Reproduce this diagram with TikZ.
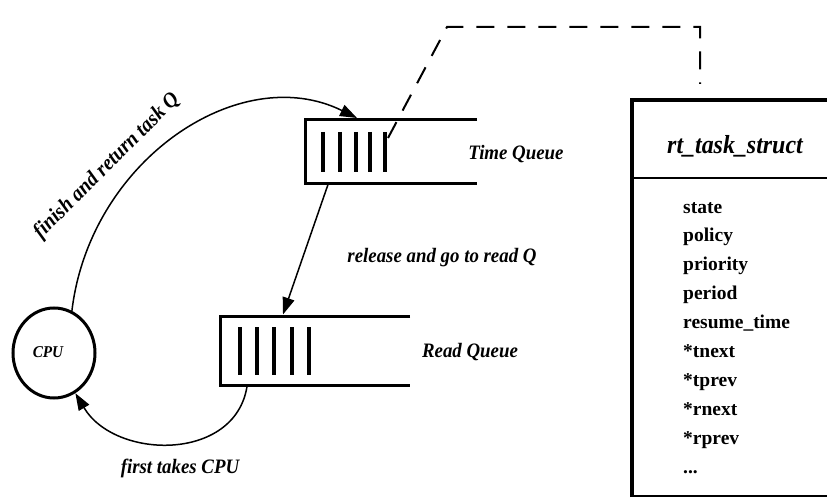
\documentclass[tikz,border=0pt]{standalone}
\usepackage{fontspec}
\setmainfont{Liberation Serif}
\newfontfamily\narrowserif{Liberation Serif}[FakeStretch=0.92]
\usetikzlibrary{arrows.meta,shapes.geometric}
\begin{document}
\begin{tikzpicture}[x=1pt,y=-1pt,
  lbl/.style={font=\narrowserif\fontsize{20.5}{22}\selectfont\bfseries\itshape, inner sep=0pt},
  fld/.style={font=\fontsize{19.5}{22}\selectfont\bfseries, anchor=base west, inner sep=0pt},
  qbox/.style={inner sep=0pt, outer sep=0pt},
  qline/.style={line width=3pt},
  qbar/.style={line width=4pt},
  flow/.style={line width=1.5pt, -{Triangle[length=17pt,width=12pt]}},
  link/.style={line width=2pt, dash pattern=on 18pt off 13pt},
  frame/.style={line width=4pt}]
\fill[white] (0,0) rectangle (827,500);
\clip (0,0) rectangle (827,500);

% CPU
\node[ellipse, draw, line width=3pt, minimum width=82pt, minimum height=90pt, inner sep=0pt] (cpu) at (54,353) {};
\node[lbl, font=\narrowserif\fontsize{16.5}{18}\selectfont\bfseries\itshape, anchor=base] (cpulbl) at (48,357) {CPU};

% Time queue
\node[qbox, minimum width=172pt, minimum height=63pt] (tq) at (391,151.5) {};
\draw[qline] (tq.north east) -- (tq.north west) -- (tq.south west) -- (tq.south east);
\foreach \x in {323,340,356,370,385} \draw[qbar] (\x,132) -- (\x,172);
\node[lbl, anchor=base] (tql) at (516,159) {Time Queue};

% Read queue
\node[qbox, minimum width=190pt, minimum height=69pt] (rq) at (315,350.5) {};
\draw[qline] (rq.north east) -- (rq.north west) -- (rq.south west) -- (rq.south east);
\foreach \x in {240,257,274,292,309} \draw[qbar] (\x,327) -- (\x,375);
\node[lbl, anchor=base] (rql) at (470,357) {Read Queue};

% connector points
\coordinate (tqin) at (357,118);
\coordinate (tqout) at (328,184.5);
\coordinate (rqin) at (283,314.5);
\coordinate (rqout) at (247,386.5);

\draw[flow] (cpu.67) .. controls (90,160) and (240,60) .. (tqin);
\draw[flow] (tqout) -- (rqin);
\draw[flow] (rqout) .. controls (235,462) and (115,460) .. (cpu.-62);

\node[lbl, font=\narrowserif\fontsize{21.5}{24}\selectfont\bfseries\itshape, rotate=45] (l1) at (107,166) {finish and return task Q};
\node[lbl, anchor=base] (l2) at (442,262) {release and go to read Q};
\node[lbl, anchor=base] (l3) at (180,473) {first takes CPU};

% dashed link
\coordinate (d0) at (388,138);
\coordinate (d1) at (447,27);
\coordinate (d2) at (700,27);
\coordinate (d3) at (700,84);
\draw[link] (d0) -- (d1) -- (d2) -- (d3);

% struct
\draw[frame] (632,497) -- (632,100) -- (832,100);
\draw[line width=2pt] (632,178) -- (832,178);
\draw[line width=1.2pt] (632,496) -- (832,496);
\node[font=\narrowserif\fontsize{26}{28}\selectfont\bfseries\itshape, inner sep=0pt] (hdr) at (735,146) {rt\_task\_struct};
\foreach \t [count=\i] in {state,policy,priority,period,resume\_time,*tnext,*tprev,*rnext,*rprev}
  \node[fld] (f\i) at (683,{213+28.9*(\i-1)}) {\t};
\node[fld] (f10) at (683,{213+28.9*9}) {...};
\end{tikzpicture}
\end{document}
